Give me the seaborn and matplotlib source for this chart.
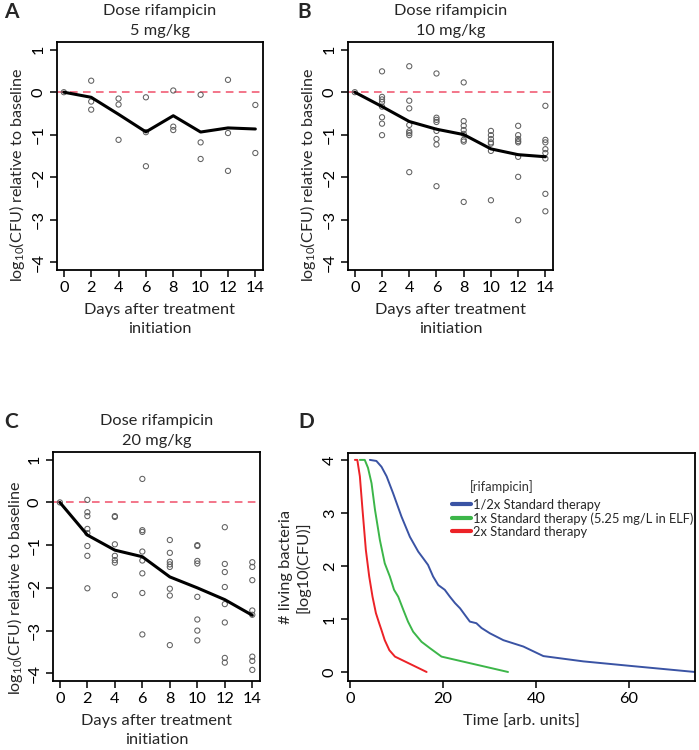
import numpy as np
import pandas as pd
import matplotlib
matplotlib.use("Agg")
import matplotlib.pyplot as plt
import seaborn as sns
from matplotlib.lines import Line2D

sns.set_style("white")
plt.rcParams['font.family'] = ['Lato', 'DejaVu Sans']
plt.rcParams['mathtext.default'] = 'regular'

# ---------------- data ----------------
days = [0, 2, 4, 6, 8, 10, 12, 14]

# Panel A: 5 mg/kg
a_vals = {
    0: [0.0],
    2: [0.27, -0.22, -0.41],
    4: [-0.15, -0.29, -1.12],
    6: [-0.12, -0.94, -1.74],
    8: [0.04, -0.81, -0.89],
    10: [-0.06, -1.18, -1.57],
    12: [0.29, -0.96, -1.85],
    14: [-0.30, -1.43],
}
# Panel B: 10 mg/kg
b_vals = {
    0: [0.0],
    2: [0.49, -0.11, -0.17, -0.23, -0.34, -0.59, -0.74, -1.01],
    4: [0.61, -0.20, -0.38, -0.77, -0.92, -0.96, -1.01, -1.88],
    6: [0.44, -0.60, -0.65, -0.70, -0.91, -1.10, -1.23, -2.21],
    8: [0.23, -0.68, -0.79, -0.89, -0.98, -1.12, -1.16, -2.58],
    10: [-0.91, -1.01, -1.10, -1.18, -1.21, -1.38, -2.54],
    12: [-0.79, -1.01, -1.10, -1.15, -1.18, -1.52, -1.99, -3.01],
    14: [-0.32, -1.12, -1.18, -1.34, -1.43, -1.56, -2.39, -2.80],
}
# Panel C: 20 mg/kg
c_vals = {
    0: [0.0],
    2: [0.06, -0.23, -0.32, -0.62, -0.72, -1.02, -1.25, -2.01],
    4: [-0.32, -0.34, -0.98, -1.25, -1.35, -1.41, -2.17],
    6: [0.55, -0.65, -0.69, -1.15, -1.36, -1.66, -2.12, -3.09],
    8: [-0.88, -1.18, -1.39, -1.45, -1.51, -2.02, -2.18, -3.34],
    10: [-1.00, -1.02, -1.37, -1.43, -2.21, -2.74, -3.00, -3.23],
    12: [-0.58, -1.44, -1.63, -1.98, -2.38, -2.81, -3.64, -3.75],
    14: [-1.40, -1.51, -1.82, -2.53, -2.63, -3.61, -3.71, -3.92],
}

# Panel D: simulated killing curves
d_time_half = [4.3, 5.7, 6.8, 7.9, 9.3, 11.1, 12.9, 14.7, 15.8, 16.8, 17.9, 19.0, 20.4,
               21.5, 22.6, 23.7, 24.7, 25.8, 27.2, 28.3, 30.1, 33.0, 37.3, 41.6, 50.2, 60.9, 74.2]
d_cfu_half = [4.0, 3.98, 3.87, 3.69, 3.37, 2.93, 2.55, 2.27, 2.14, 2.02, 1.80, 1.64, 1.55,
              1.42, 1.30, 1.20, 1.08, 0.95, 0.92, 0.83, 0.73, 0.60, 0.48, 0.30, 0.20, 0.11, 0.0]
d_time_1x = [2.15, 3.2, 3.9, 4.66, 5.4, 6.45, 7.5, 8.6, 9.5, 10.4, 11.5, 12.5, 13.6,
             15.4, 17.2, 19.7, 34.0]
d_cfu_1x = [4.0, 4.0, 3.85, 3.56, 3.06, 2.49, 2.05, 1.80, 1.55, 1.42, 1.17, 0.95, 0.76,
            0.57, 0.45, 0.29, 0.0]
d_time_2x = [1.08, 1.6, 2.15, 2.72, 3.44, 4.16, 4.87, 5.6, 6.3, 6.8, 7.5, 8.5, 9.7, 16.5]
d_cfu_2x = [4.0, 4.0, 3.69, 3.06, 2.30, 1.80, 1.42, 1.11, 0.92, 0.79, 0.60, 0.41, 0.29, 0.0]

d_labels = ["1/2x Standard therapy", "1x Standard therapy (5.25 mg/L in ELF)", "2x Standard therapy"]
d_colors = ["#3a53a4", "#3cb649", "#ec2227"]

titles = ["Dose rifampicin\n5 mg/kg", "Dose rifampicin\n10 mg/kg", "Dose rifampicin\n20 mg/kg"]
ylabel_cfu = "log$_{10}$(CFU) relative to baseline"
xlabel_days = "Days after treatment\ninitiation"


def to_df(vals):
    rows = [(d, v) for d in days for v in vals[d]]
    return pd.DataFrame(rows, columns=["day", "value"])


W, H = 699, 750
fig = plt.figure(figsize=(W / 100, H / 100), dpi=100)


def box(l, t, r, b):
    return [l / W, 1 - b / H, (r - l) / W, (b - t) / H]


FS = 11.8
axA = fig.add_axes(box(57, 42, 263, 270))
axB = fig.add_axes(box(348, 42, 553, 270))
axC = fig.add_axes(box(53, 452, 260, 681))
axD = fig.add_axes(box(348, 453, 695, 681))


def style_axes(ax):
    for s in ax.spines.values():
        s.set_visible(True)
        s.set_linewidth(1.3)
        s.set_color("black")
    ax.tick_params(direction="out", length=5, width=1.1, labelsize=FS, pad=3,
                   left=True, bottom=True, colors="black")
    for lab in ax.get_yticklabels():
        lab.set_rotation(90)
        lab.set_va("center")


panel_specs = [
    (axA, a_vals, titles[0], (57, 42, 263, 270), (27, 175)),
    (axB, b_vals, titles[1], (348, 42, 553, 270), (318, 175)),
    (axC, c_vals, titles[2], (53, 452, 260, 681), (25, 588)),
]
for ax, vals, title, (l, t, r, b), (lx, ly) in panel_specs:
    df = to_df(vals)
    ax.axhline(0, color="#f0506a", lw=1.1, ls=(0, (5, 3.5)), zorder=1)
    sns.scatterplot(data=df, x="day", y="value", ax=ax, marker="o", s=14,
                    facecolors="none", edgecolor="#606060", linewidth=0.75, zorder=2)
    sns.lineplot(data=df, x="day", y="value", ax=ax, estimator="mean", errorbar=None,
                 color="black", lw=2.2, zorder=3)
    ax.set_xlim(-0.5, 14.56)
    ax.set_ylim(-4.18, 1.18)
    ax.set_xticks(days)
    ax.set_yticks([1, 0, -1, -2, -3, -4])
    ax.set_title(title, fontsize=FS, pad=5, linespacing=1.55)
    ax.set_xlabel(xlabel_days, fontsize=FS, labelpad=6, linespacing=1.4)
    ax.set_ylabel(ylabel_cfu, fontsize=11.6)
    ax.yaxis.set_label_coords((lx - l) / (r - l), (b - ly) / (b - t))
    style_axes(ax)

# Panel D
dfD = pd.concat([
    pd.DataFrame({"time": d_time_half, "cfu": d_cfu_half, "therapy": d_labels[0]}),
    pd.DataFrame({"time": d_time_1x, "cfu": d_cfu_1x, "therapy": d_labels[1]}),
    pd.DataFrame({"time": d_time_2x, "cfu": d_cfu_2x, "therapy": d_labels[2]}),
], ignore_index=True)
sns.lineplot(data=dfD, x="time", y="cfu", hue="therapy", palette=d_colors, ax=axD,
             estimator=None, sort=False, lw=1.4, legend=False)
axD.set_xlim(-0.4, 74.2)
axD.set_ylim(-0.17, 4.13)
axD.set_xticks([0, 20, 40, 60])
axD.set_yticks([0, 1, 2, 3, 4])
axD.set_xlabel("Time [arb. units]", fontsize=FS, labelpad=6)
axD.set_ylabel("# living bacteria\n[log10(CFU)]", fontsize=FS, labelpad=9, linespacing=1.2)
style_axes(axD)

handles = [Line2D([], [], color=c, lw=3) for c in d_colors]
leg = axD.legend(handles, d_labels, loc="upper left", bbox_to_anchor=(0.285, 0.822),
                 frameon=False, fontsize=9.3, handlelength=1.5, handletextpad=0.1,
                 labelspacing=0.1, borderaxespad=0)
axD.text(0.352, 0.851, "[rifampicin]", transform=axD.transAxes, fontsize=9.3,
         color="#333333", ha="left", va="center")

# Panel letters
for lbl, (x, y) in {"A": (4, 12), "B": (297, 12), "C": (4, 422), "D": (298, 422)}.items():
    fig.text(x / W, 1 - y / H, lbl, fontsize=15, fontweight="bold", ha="left", va="center")

fig.savefig("out.png", dpi=100)
